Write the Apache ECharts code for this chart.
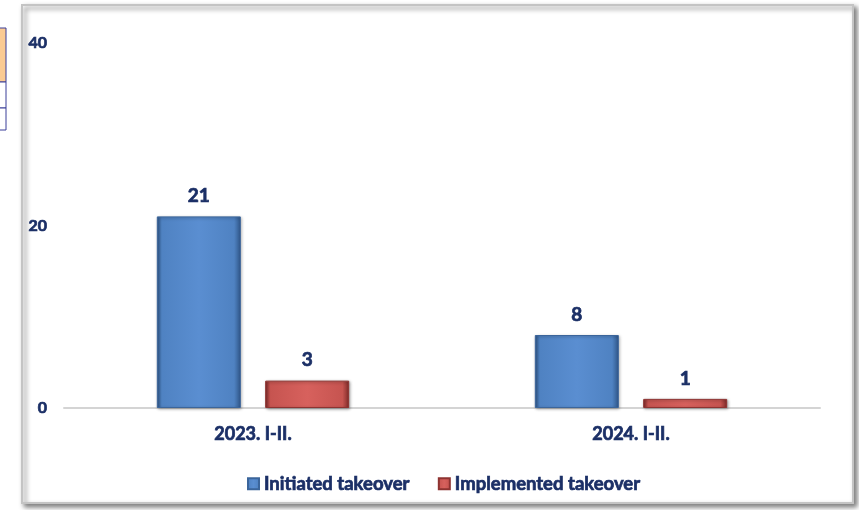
<!DOCTYPE html>
<html>
<head>
<meta charset="utf-8">
<style>
  html, body { margin: 0; padding: 0; background: #ffffff; }
  #chart { width: 859px; height: 510px; }
</style>
<script src="https://cdn.jsdelivr.net/npm/echarts@6/dist/echarts.min.js"></script>
</head>
<body>
<div id="chart"></div>
<script>
// Takeover cases, January–February of each year
const categories = ['2023. I-II.', '2024. I-II.'];
const initiated = [21, 8];
const implemented = [3, 1];
const yTicks = { min: 0, max: 40, interval: 20 };

const textColor = '#1b2f66';
const fontFamily = 'Lato, "Open Sans", sans-serif';
// heavy label text: bold face plus a thin outline in the same colour
function heavyText(size) {
  return {
    color: textColor, fontSize: size, fontWeight: 'bold', fontFamily: fontFamily,
    textBorderColor: textColor, textBorderWidth: 0.7
  };
}

function barFill(light, mid, dark) {
  return new echarts.graphic.LinearGradient(0, 0, 1, 0, [
    { offset: 0, color: dark },
    { offset: 0.06, color: mid },
    { offset: 0.5, color: light },
    { offset: 0.92, color: mid },
    { offset: 1, color: dark }
  ]);
}

const chart = echarts.init(document.getElementById('chart'), null, { renderer: 'canvas' });

chart.setOption({
  backgroundColor: '#ffffff',
  animation: false,
  graphic: [
    // framed plot panel
    {
      type: 'rect', z: -10,
      shape: { x: 22, y: 5, width: 831, height: 498 },
      style: {
        fill: '#ffffff', stroke: '#c4c4c4', lineWidth: 2,
        shadowBlur: 5, shadowOffsetX: 3, shadowOffsetY: 3, shadowColor: 'rgba(0,0,0,0.5)'
      }
    },
    // edge of the neighbouring table
    {
      type: 'rect', z: -9,
      shape: { x: -2, y: 28, width: 8, height: 54 },
      style: { fill: '#fbcb93', stroke: '#3a3f99', lineWidth: 1 }
    },
    {
      type: 'rect', z: -9,
      shape: { x: -2, y: 82, width: 8, height: 26 },
      style: { fill: '#ffffff', stroke: '#3a3f99', lineWidth: 1 }
    },
    {
      type: 'rect', z: -9,
      shape: { x: -2, y: 108, width: 8, height: 22 },
      style: { fill: '#ffffff', stroke: '#3a3f99', lineWidth: 1 }
    }
  ],
  grid: { left: 64, right: 39, top: 43, bottom: 102, containLabel: false },
  legend: {
    top: 469,
    left: 242,
    itemWidth: 11,
    itemHeight: 11,
    itemGap: 28,
    icon: 'rect',
    textStyle: Object.assign(heavyText(18.5), { padding: [0, 0, 0, 0] }),
    data: ['Initiated takeover', 'Implemented takeover']
  },
  xAxis: {
    type: 'category',
    data: categories,
    axisLine: { show: true, lineStyle: { color: '#d4d4d4', width: 2 } },
    axisTick: { show: false },
    axisLabel: Object.assign(heavyText(18), { margin: 17 })
  },
  yAxis: {
    type: 'value',
    min: yTicks.min,
    max: yTicks.max,
    interval: yTicks.interval,
    axisLine: { show: false },
    axisTick: { show: false },
    splitLine: { show: false },
    axisLabel: Object.assign(heavyText(16), { margin: 17 })
  },
  series: [
    {
      name: 'Initiated takeover',
      type: 'bar',
      data: initiated,
      barWidth: 84,
      barGap: '29%',
      itemStyle: {
        color: barFill('#5a8ed1', '#4f82c2', '#2f5688'),
        borderColor: '#3b659b',
        borderWidth: 1,
        shadowBlur: 3, shadowOffsetX: 1, shadowOffsetY: 1, shadowColor: 'rgba(0,0,0,0.35)'
      },
      label: Object.assign(heavyText(19), { show: true, position: 'top', distance: 11 })
    },
    {
      name: 'Implemented takeover',
      type: 'bar',
      data: implemented,
      barWidth: 84,
      itemStyle: {
        color: barFill('#d7615d', '#c65450', '#7e2a28'),
        borderColor: '#8e3331',
        borderWidth: 1,
        shadowBlur: 3, shadowOffsetX: 1, shadowOffsetY: 1, shadowColor: 'rgba(0,0,0,0.35)'
      },
      label: Object.assign(heavyText(19), { show: true, position: 'top', distance: 11 })
    }
  ]
});
</script>
</body>
</html>
